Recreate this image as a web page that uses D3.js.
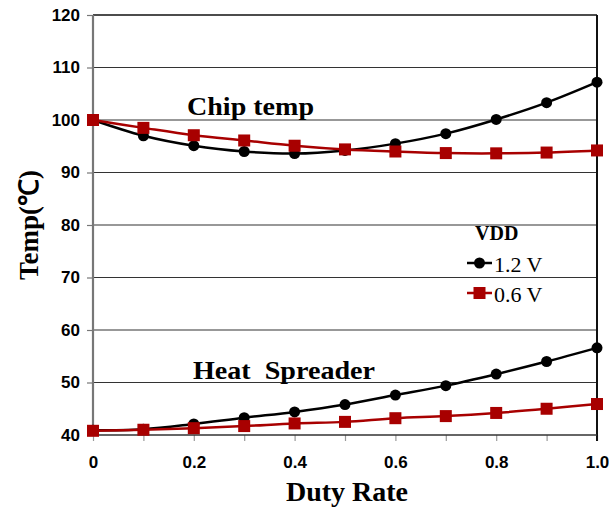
<!DOCTYPE html>
<html><head><meta charset="utf-8">
<script src="https://cdn.jsdelivr.net/npm/d3@7"></script>
<style>body{margin:0;background:#fff}</style>
</head><body>
<svg id="c" width="609" height="509"></svg>
<script>
const duty = [0,0.1,0.2,0.3,0.4,0.5,0.6,0.7,0.8,0.9,1.0];
const chip12 = [100, 97.0, 95.1, 94.0, 93.6, 94.2, 95.5, 97.4, 100.1, 103.3, 107.2];
const chip06 = [100, 98.5, 97.1, 96.1, 95.1, 94.4, 94.0, 93.7, 93.65, 93.8, 94.2];
const heat12 = [40.9, 41.1, 42.1, 43.3, 44.4, 45.8, 47.6, 49.4, 51.6, 54.0, 56.6];
const heat06 = [40.8, 41.0, 41.3, 41.7, 42.2, 42.5, 43.2, 43.6, 44.2, 45.0, 45.9];
const yTicks = [40,50,60,70,80,90,100,110,120];
const xLabelTicks = [0,0.2,0.4,0.6,0.8,1.0];
const xMinorTicks = duty;
const legendItems = ["1.2 V","0.6 V"];

const svg = d3.select("#c");
const L=93, R=597, T=15, B=435;
const x = d3.scaleLinear().domain([0,1]).range([L,R]);
const y = d3.scaleLinear().domain([40,120]).range([B,T]);
const BLACK="#000", RED="#a80000";

// gridlines
svg.append("g").selectAll("line").data(yTicks.filter(v=>v>40&&v<120)).join("line")
  .attr("x1",L).attr("x2",R).attr("y1",d=>y(d)).attr("y2",d=>y(d))
  .attr("stroke","#333").attr("stroke-width",1.2);

// y axis
const yAxis = d3.axisLeft(y).tickValues(yTicks).tickSize(6).tickPadding(7).tickFormat(d3.format("d"));
const gy = svg.append("g").attr("transform",`translate(${L},0)`).call(yAxis);
gy.select(".domain").remove();
gy.selectAll(".tick line").attr("stroke","#777").attr("stroke-width",1.2);
gy.selectAll(".tick text").attr("font-family","Liberation Sans, Arial, sans-serif").attr("font-weight","bold").attr("font-size",17).attr("fill","#000");

// x axis minor ticks
const xAxis = d3.axisBottom(x).tickValues(xMinorTicks).tickSize(6).tickFormat(()=> "");
const gx = svg.append("g").attr("transform",`translate(0,${B})`).call(xAxis);
gx.select(".domain").remove();
gx.selectAll(".tick line").attr("stroke","#999").attr("stroke-width",1.2);
const xAxis2 = d3.axisBottom(x).tickValues(xLabelTicks).tickSize(0).tickPadding(21).tickFormat(d=>d===0?"0":d3.format(".1f")(d));
const gx2 = svg.append("g").attr("transform",`translate(0,${B})`).call(xAxis2);
gx2.select(".domain").remove();
gx2.selectAll(".tick text").attr("font-family","Liberation Sans, Arial, sans-serif").attr("font-weight","bold").attr("font-size",17).attr("fill","#000");

// frame
svg.append("line").attr("x1",L).attr("x2",R).attr("y1",T).attr("y2",T).attr("stroke","#111").attr("stroke-width",1.5);
svg.append("line").attr("x1",R).attr("x2",R).attr("y1",T).attr("y2",B+6).attr("stroke","#111").attr("stroke-width",2);
svg.append("line").attr("x1",L).attr("x2",R).attr("y1",B).attr("y2",B).attr("stroke","#333").attr("stroke-width",1.5);
svg.append("line").attr("x1",L).attr("x2",L).attr("y1",T).attr("y2",B).attr("stroke","#777").attr("stroke-width",2.2);

const line = d3.line().x((d,i)=>x(duty[i])).y(d=>y(d)).curve(d3.curveCatmullRom.alpha(0.5));

function circleSeries(vals){
  svg.append("path").datum(vals).attr("d",line).attr("fill","none").attr("stroke",BLACK).attr("stroke-width",2.5);
  svg.append("g").selectAll("circle").data(vals).join("circle")
    .attr("cx",(d,i)=>x(duty[i])).attr("cy",d=>y(d)).attr("r",5.5).attr("fill",BLACK);
}
function squareSeries(vals){
  svg.append("path").datum(vals).attr("d",line).attr("fill","none").attr("stroke",RED).attr("stroke-width",2.5);
  svg.append("g").selectAll("rect").data(vals).join("rect")
    .attr("x",(d,i)=>x(duty[i])-6).attr("y",d=>y(d)-6).attr("width",12).attr("height",12).attr("fill",RED);
}
circleSeries(chip12); squareSeries(chip06);
circleSeries(heat12); squareSeries(heat06);

const serif = "Liberation Serif, Times New Roman, serif";
svg.append("text").attr("x",187).attr("y",115).attr("font-family",serif).attr("font-weight","bold").attr("font-size",25)
  .attr("textLength",127).attr("lengthAdjust","spacingAndGlyphs").text("Chip temp");
svg.append("text").attr("x",193).attr("y",379).attr("font-family",serif).attr("font-weight","bold").attr("font-size",25)
  .attr("textLength",182).attr("lengthAdjust","spacingAndGlyphs").attr("xml:space","preserve").style("white-space","pre").text("Heat  Spreader");

// legend
svg.append("text").attr("x",475).attr("y",240).attr("font-family",serif).attr("font-weight","bold").attr("font-size",20).text("VDD");
const leg = svg.append("g").selectAll("g").data(legendItems).join("g")
  .attr("transform",(d,i)=>`translate(0,${263+i*30})`);
leg.append("line").attr("x1",467).attr("x2",492).attr("stroke",(d,i)=>i?RED:BLACK).attr("stroke-width",2.5);
leg.filter((d,i)=>i===0).append("circle").attr("cx",479.5).attr("r",5.5).attr("fill",BLACK);
leg.filter((d,i)=>i===1).append("rect").attr("x",473.5).attr("y",-6).attr("width",12).attr("height",12).attr("fill",RED);
leg.append("text").attr("x",494).attr("y",9).attr("font-family",serif).attr("font-size",22).text(d=>d);

// axis titles
svg.append("text").attr("transform",`translate(38,${(T+B)/2}) rotate(-90)`).attr("text-anchor","middle")
  .attr("font-family",serif).attr("font-weight","bold").attr("font-size",27).text("Temp(℃)");
svg.append("text").attr("x",(L+R)/2+2).attr("y",501).attr("text-anchor","middle")
  .attr("font-family",serif).attr("font-weight","bold").attr("font-size",28).text("Duty Rate");
</script>
</body></html>
